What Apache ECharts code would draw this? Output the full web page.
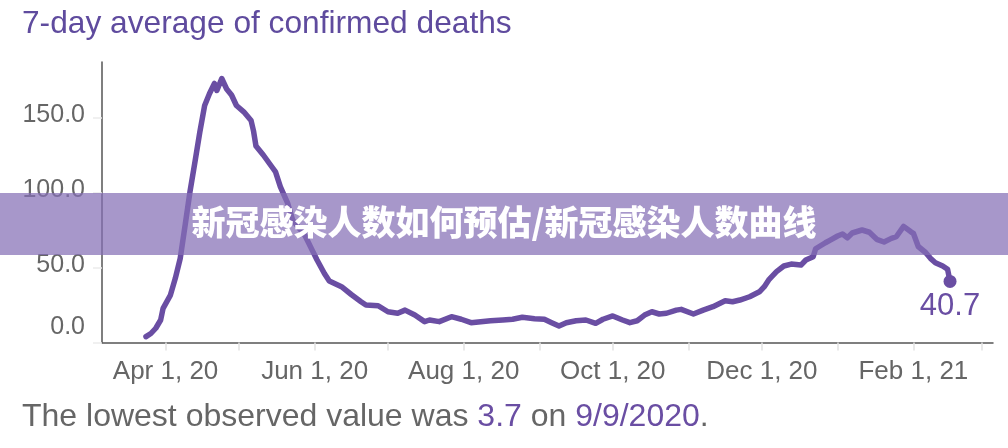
<!DOCTYPE html>
<html>
<head>
<meta charset="utf-8">
<script src="https://cdn.jsdelivr.net/npm/echarts@6/dist/echarts.min.js"></script>
<style>
  html, body { margin: 0; padding: 0; background: #fff; }
  #chart { width: 1008px; height: 448px; }
</style>
</head>
<body>
<div id="chart"></div>
<script>
// 日期（7 日均值）
var dates = [
  '2020-03-24', '2020-03-26', '2020-03-28', '2020-03-30', '2020-03-31',
  '2020-04-03', '2020-04-05', '2020-04-07', '2020-04-09', '2020-04-11',
  '2020-04-13', '2020-04-15', '2020-04-17', '2020-04-19', '2020-04-21',
  '2020-04-22', '2020-04-24', '2020-04-26', '2020-04-28', '2020-04-30',
  '2020-05-03', '2020-05-06', '2020-05-07', '2020-05-08', '2020-05-11',
  '2020-05-15', '2020-05-16', '2020-05-18', '2020-05-21', '2020-05-23',
  '2020-05-28', '2020-05-31', '2020-06-02', '2020-06-05', '2020-06-07',
  '2020-06-12', '2020-06-16', '2020-06-20', '2020-06-22', '2020-06-27',
  '2020-07-01', '2020-07-05', '2020-07-08', '2020-07-12', '2020-07-16',
  '2020-07-18', '2020-07-22', '2020-07-27', '2020-07-31', '2020-08-04',
  '2020-08-08', '2020-08-12', '2020-08-17', '2020-08-21', '2020-08-25',
  '2020-08-30', '2020-09-03', '2020-09-06', '2020-09-09', '2020-09-12',
  '2020-09-16', '2020-09-20', '2020-09-24', '2020-09-27', '2020-10-01',
  '2020-10-05', '2020-10-08', '2020-10-11', '2020-10-14', '2020-10-17',
  '2020-10-20', '2020-10-23', '2020-10-27', '2020-10-29', '2020-11-03',
  '2020-11-07', '2020-11-11', '2020-11-16', '2020-11-19', '2020-11-22',
  '2020-11-26', '2020-11-30', '2020-12-02', '2020-12-04', '2020-12-07',
  '2020-12-10', '2020-12-13', '2020-12-17', '2020-12-19', '2020-12-22',
  '2020-12-23', '2020-12-27', '2020-12-29', '2021-01-01', '2021-01-03',
  '2021-01-05', '2021-01-07', '2021-01-11', '2021-01-14', '2021-01-17',
  '2021-01-20', '2021-01-23', '2021-01-25', '2021-01-28', '2021-01-31',
  '2021-02-01', '2021-02-03', '2021-02-06', '2021-02-08', '2021-02-10',
  '2021-02-13', '2021-02-15', '2021-02-16'
];
var deaths = [
  3.9, 6, 9.5, 15, 22.8,
  31.6, 42.8, 56, 78, 100.5,
  120, 140, 158, 166, 172.7,
  168, 176, 169, 165, 158,
  153.8, 148, 141, 131, 125,
  116, 113.8, 103.8, 92.7, 81.6,
  71.5, 61.6, 55, 46, 41,
  37.2, 32, 27.2, 25, 24.5,
  20.5, 19.5, 21.6, 18.3, 13.9,
  15, 13.9, 17.2, 15.5, 13.2,
  13.9, 14.5, 15, 15.5, 16.8,
  15.9, 15.5, 13.2, 11, 13.2,
  14.5, 15, 12.8, 15.5, 17.7,
  15, 13.2, 14.5, 18.3, 20.5,
  19, 19.5, 21.6, 22.1, 19,
  21.6, 23.9, 27.8, 27.2, 28.3,
  30.5, 33.8, 37.2, 42.1, 47.2,
  51, 52.3, 51.6, 55, 57.2,
  62.5, 66.5, 68.3, 71, 72.3,
  69.8, 73, 75, 73.5, 68.8,
  67, 69.4, 70.5, 77.4, 73.8,
  72.8, 64, 60, 56.1, 53.2,
  51, 48.8, 40.7
];
// 刻度
var monthTicks = [
  '2020-04-01', '2020-05-01', '2020-06-01', '2020-07-01', '2020-08-01', '2020-09-01',
  '2020-10-01', '2020-11-01', '2020-12-01', '2021-01-01', '2021-02-01', '2021-03-01'
];
var xLabels = ['2020-04-01', '2020-06-01', '2020-08-01', '2020-10-01', '2020-12-01', '2021-02-01'];
var yTicks = [0, 50, 100, 150];

var monthNames = ['Jan', 'Feb', 'Mar', 'Apr', 'May', 'Jun', 'Jul', 'Aug', 'Sep', 'Oct', 'Nov', 'Dec'];
function toTime(s) {
  var p = s.split('-');
  return new Date(+p[0], +p[1] - 1, +p[2]).getTime();
}

var purple = '#6a4ea3';
var grayText = '#666';
var regular = '"Liberation Sans", Arial, sans-serif';

var seriesData = dates.map(function (d, i) {
  return [toTime(d), deaths[i]];
});
// 最后一个点：圆点 + 数值
var last = seriesData.length - 1;
seriesData[last] = {
  value: seriesData[last],
  symbol: 'circle',
  symbolSize: 13,
  label: {
    show: true,
    position: 'bottom',
    distance: 3,
    formatter: function (p) { return p.value[1].toFixed(1); },
    color: purple,
    fontSize: 31,
    fontFamily: regular
  }
};

var myChart = echarts.init(document.getElementById('chart'));
var option = {
  animation: false,
  title: {
    text: '7-day average of confirmed deaths',
    left: 22,
    top: 8,
    padding: 0,
    textStyle: {
      color: '#5f4b9e',
      fontSize: 31.7,
      fontWeight: 'normal',
      fontFamily: regular
    }
  },
  grid: {
    left: 102,
    right: 15,
    top: 62,
    bottom: 105.5,
    outerBoundsMode: 'none'
  },
  xAxis: {
    type: 'value',
    min: toTime('2020-03-06'),
    max: toTime('2021-03-05') + 14 * 3600 * 1000,
    axisLine: { lineStyle: { color: '#555', width: 1.5 } },
    axisTick: {
      customValues: monthTicks.map(toTime),
      length: 8,
      lineStyle: { color: '#e2e2e2', width: 1.5 }
    },
    axisLabel: {
      customValues: xLabels.map(toTime),
      margin: 16,
      color: grayText,
      fontSize: 26,
      fontFamily: regular,
      formatter: function (val) {
        var d = new Date(val);
        return monthNames[d.getMonth()] + ' ' + d.getDate() + ', ' + String(d.getFullYear()).slice(2);
      }
    },
    splitLine: { show: false }
  },
  yAxis: {
    type: 'value',
    min: 0,
    max: 187,
    axisLine: { show: true, lineStyle: { color: '#555', width: 1.5 } },
    axisTick: {
      show: true,
      customValues: yTicks,
      length: 9,
      lineStyle: { color: '#ececec', width: 1.5 }
    },
    axisLabel: {
      customValues: yTicks,
      margin: 17,
      formatter: function (v) {
        return v === 0 ? '{low|0.0}' : '{n|' + v.toFixed(1) + '}';
      },
      rich: {
        n: { color: grayText, fontSize: 25, fontFamily: regular, padding: [0, 0, 5, 0] },
        low: { color: grayText, fontSize: 25, fontFamily: regular, padding: [0, 0, 30, 0] }
      }
    },
    splitLine: { show: false }
  },
  series: [
    {
      type: 'line',
      data: seriesData,
      showSymbol: true,
      symbol: 'none',
      itemStyle: { color: purple },
      lineStyle: { color: purple, width: 5.5, cap: 'round', join: 'round' },
      z: 3
    }
  ],
  graphic: [
    {
      type: 'text',
      left: 22,
      top: 401,
      style: {
        text: '{g|The lowest observed value was }{p|3.7}{g| on }{p|9/9/2020}{g|.}',
        rich: {
          g: { fill: grayText, fontSize: 32, fontFamily: regular },
          p: { fill: purple, fontSize: 32, fontFamily: regular }
        }
      }
    },
    // 覆盖横幅
    {
      type: 'rect',
      left: 0,
      top: 193,
      z: 100,
      shape: { width: 1008, height: 62 },
      style: { fill: 'rgba(133, 111, 181, 0.72)' }
    },
    {
      type: 'text',
      left: 'center',
      top: 205,
      z: 101,
      style: {
        text: '新冠感染人数如何预估/新冠感染人数曲线',
        fill: '#fff',
        fontSize: 34,
        fontWeight: 900,
        fontFamily: '"Noto Sans CJK SC", sans-serif'
      }
    }
  ]
};
myChart.setOption(option);
</script>
</body>
</html>
